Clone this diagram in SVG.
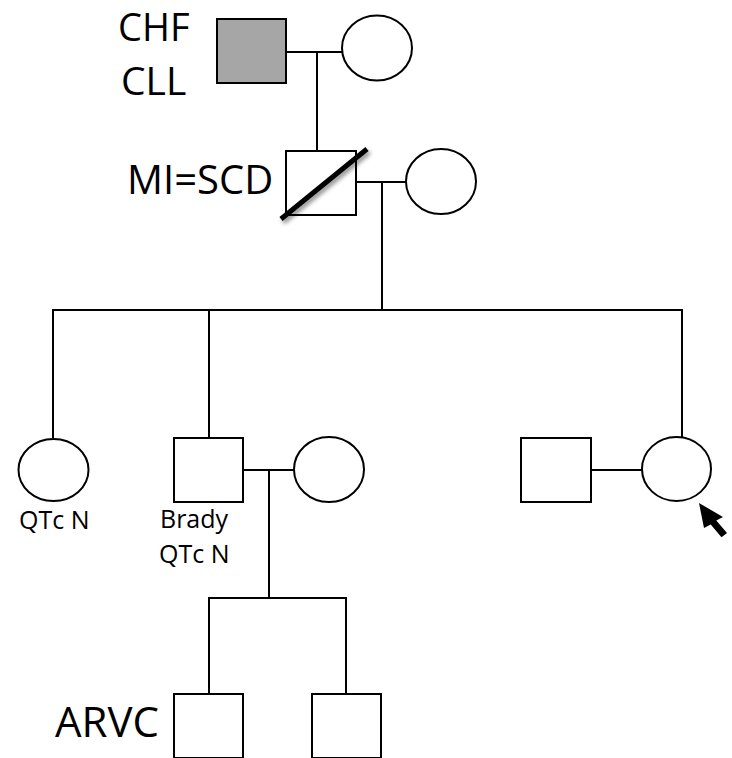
<svg xmlns="http://www.w3.org/2000/svg" width="732" height="758" viewBox="0 0 732 758">
<defs>
<style>
.sh{fill:#fff;stroke:#000;stroke-width:2}
.aff{fill:#a6a6a6;stroke:#000;stroke-width:2}
.ln{fill:none;stroke:#000;stroke-width:2}
.big{font-family:"Open Sans","Liberation Sans",sans-serif;font-size:40px;fill:#000}
.sm{font-family:"Open Sans","Liberation Sans",sans-serif;font-size:25px;fill:#000}
</style>
<filter id="shadow" x="-20%" y="-20%" width="150%" height="150%">
<feDropShadow dx="2" dy="3" stdDeviation="2" flood-color="#000" flood-opacity="0.45"/>
</filter>
</defs>
<rect width="732" height="758" fill="#fff"/>
<g id="connectors">
<path class="ln" d="M286 52H342M317 52V151"/>
<path class="ln" d="M356 182H406M382 182V310"/>
<path class="ln" d="M53 438V310H682V437M209 310V438"/>
<path class="ln" d="M243 470H294M269 470V598M209 694V598H346V694"/>
<path class="ln" d="M591 470H642"/>
</g>
<g id="grandfather">
<rect class="aff" x="217" y="19" width="69" height="64"/>
<text class="big" x="118" y="41" style="font-size:38px">CHF</text>
<text class="big" x="121" y="95" style="font-size:39px">CLL</text>
</g>
<g id="grandmother">
<ellipse class="sh" cx="377" cy="48" rx="35" ry="32.5"/>
</g>
<g id="father">
<rect class="sh" x="286" y="151" width="70" height="64"/>
<line x1="281" y1="219" x2="367" y2="149" stroke="#000" stroke-width="5" filter="url(#shadow)"/>
<text class="big" x="127" y="194">MI=SCD</text>
</g>
<g id="mother">
<ellipse class="sh" cx="441" cy="181.5" rx="35" ry="32.5"/>
</g>
<g id="sister">
<ellipse class="sh" cx="53.5" cy="470" rx="35" ry="31"/>
<text class="sm" x="19" y="529">QTc N</text>
</g>
<g id="brother">
<rect class="sh" x="174" y="438" width="69" height="64"/>
<text class="sm" x="160" y="528">Brady</text>
<text class="sm" x="159" y="563">QTc N</text>
</g>
<g id="brother-wife">
<ellipse class="sh" cx="329" cy="469.5" rx="35" ry="32.5"/>
</g>
<g id="proband-husband">
<rect class="sh" x="521" y="438" width="70" height="64"/>
</g>
<g id="proband">
<ellipse class="sh" cx="676.5" cy="469" rx="34.5" ry="32"/>
<polygon points="699,503 723,517 716.3,520.4 727,533 721.5,537.2 710.7,524.6 704,528" fill="#000"/>
</g>
<g id="nephew1">
<rect class="sh" x="174" y="694" width="69" height="64"/>
<text class="big" x="55" y="737" style="font-size:42px">ARVC</text>
</g>
<g id="nephew2">
<rect class="sh" x="312" y="694" width="69" height="64"/>
</g>
</svg>
